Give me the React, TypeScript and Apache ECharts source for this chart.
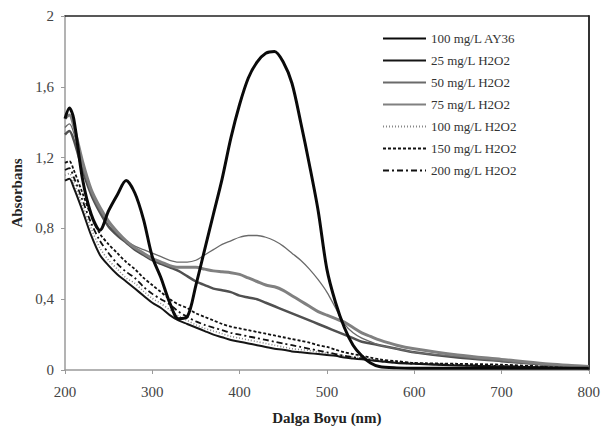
import React, { useEffect, useRef } from "react";
import * as echarts from "echarts";

const wavelengths = [200, 205, 210, 220, 230, 240, 250, 260, 270, 280, 290, 300, 310, 320, 330, 340, 350, 360, 370, 380, 390, 400, 410, 420, 430, 440, 450, 460, 470, 480, 490, 500, 510, 520, 530, 540, 550, 560, 580, 600, 650, 700, 750, 800];

const ay36 = [1.42, 1.48, 1.42, 1.08, 0.88, 0.79, 0.9, 0.99, 1.07, 1.0, 0.85, 0.64, 0.52, 0.38, 0.29, 0.3, 0.48, 0.68, 0.88, 1.08, 1.31, 1.5, 1.65, 1.74, 1.79, 1.8, 1.74, 1.62, 1.4, 1.16, 0.9, 0.57, 0.38, 0.24, 0.14, 0.08, 0.04, 0.02, 0.012, 0.01, 0.01, 0.01, 0.01, 0.01];

const h25 = [1.07, 1.08, 1.03, 0.9, 0.76, 0.65, 0.59, 0.54, 0.5, 0.46, 0.42, 0.38, 0.35, 0.31, 0.28, 0.26, 0.24, 0.22, 0.2, 0.185, 0.17, 0.16, 0.15, 0.14, 0.13, 0.12, 0.115, 0.105, 0.1, 0.095, 0.09, 0.085, 0.08, 0.07, 0.065, 0.06, 0.055, 0.05, 0.04, 0.035, 0.025, 0.02, 0.015, 0.01];

const h50 = [1.37, 1.39, 1.34, 1.15, 1.0, 0.9, 0.83, 0.77, 0.73, 0.7, 0.68, 0.66, 0.64, 0.62, 0.61, 0.61, 0.62, 0.65, 0.68, 0.71, 0.73, 0.75, 0.76, 0.76, 0.75, 0.73, 0.7, 0.66, 0.62, 0.57, 0.51, 0.44, 0.35, 0.26, 0.21, 0.18, 0.16, 0.14, 0.12, 0.1, 0.075, 0.05, 0.03, 0.02];

const h75 = [1.42, 1.44, 1.38, 1.18, 1.02, 0.92, 0.84, 0.78, 0.73, 0.69, 0.66, 0.63, 0.61, 0.59, 0.58, 0.58, 0.58, 0.57, 0.56, 0.555, 0.55, 0.54, 0.52, 0.5, 0.48, 0.47, 0.45, 0.42, 0.39, 0.36, 0.33, 0.31, 0.29, 0.27, 0.24, 0.21, 0.19, 0.17, 0.14, 0.12, 0.085, 0.06, 0.035, 0.02];

const h100 = [1.1, 1.11, 1.06, 0.93, 0.8, 0.69, 0.62, 0.57, 0.52, 0.49, 0.445, 0.405, 0.375, 0.34, 0.305, 0.28, 0.255, 0.235, 0.22, 0.205, 0.19, 0.18, 0.17, 0.16, 0.15, 0.14, 0.13, 0.12, 0.115, 0.11, 0.1, 0.095, 0.09, 0.08, 0.075, 0.07, 0.06, 0.055, 0.045, 0.04, 0.03, 0.02, 0.015, 0.01];

const h150 = [1.17, 1.18, 1.13, 1.0, 0.87, 0.77, 0.71, 0.66, 0.61, 0.57, 0.52, 0.48, 0.44, 0.4, 0.37, 0.35, 0.32, 0.3, 0.28, 0.26, 0.245, 0.235, 0.225, 0.215, 0.205, 0.195, 0.185, 0.175, 0.165, 0.155, 0.14, 0.13, 0.115, 0.1, 0.09, 0.08, 0.07, 0.06, 0.05, 0.04, 0.035, 0.03, 0.02, 0.015];

const h200 = [1.13, 1.14, 1.09, 0.96, 0.83, 0.73, 0.66, 0.6, 0.555, 0.52, 0.47, 0.43, 0.4, 0.37, 0.33, 0.3, 0.275, 0.255, 0.24, 0.225, 0.21, 0.2, 0.19, 0.18, 0.17, 0.16, 0.15, 0.14, 0.13, 0.12, 0.11, 0.1, 0.09, 0.08, 0.072, 0.065, 0.058, 0.05, 0.042, 0.036, 0.028, 0.022, 0.016, 0.012];

const extra = [1.33, 1.35, 1.3, 1.13, 0.99, 0.89, 0.81, 0.76, 0.72, 0.68, 0.65, 0.62, 0.6, 0.58, 0.56, 0.53, 0.5, 0.48, 0.46, 0.45, 0.44, 0.42, 0.41, 0.4, 0.38, 0.36, 0.34, 0.32, 0.3, 0.28, 0.26, 0.24, 0.22, 0.2, 0.18, 0.16, 0.15, 0.14, 0.12, 0.1, 0.07, 0.05, 0.03, 0.02];

const legendNames = ["100 mg/L AY36", "25 mg/L H2O2", "50 mg/L H2O2", "75 mg/L H2O2", "100 mg/L H2O2", "150 mg/L H2O2", "200 mg/L H2O2"];

const xTicks = [200, 300, 400, 500, 600, 700, 800];
const yTicks = [0, 0.4, 0.8, 1.2, 1.6, 2];

const FONT = "Liberation Serif";

export default function App() {
  const ref = useRef<HTMLDivElement>(null);
  useEffect(() => {
    if (!ref.current) return;
    const chart = echarts.init(ref.current, null, { renderer: "svg" });
    const pts = (vals: number[]) => wavelengths.map((w, i) => [w, vals[i]]);
    const mk = (name: string, vals: number[], color: string, width: number, type: any, z = 2) => ({
      name,
      type: "line",
      data: pts(vals),
      showSymbol: false,
      symbol: "none",
      symbolSize: 0,
      smooth: 0.3,
      z,
      lineStyle: { color, width, type },
      itemStyle: { color },
    });
    chart.setOption({
      animation: false,
      backgroundColor: "#ffffff",
      grid: { left: 65, right: 11, top: 16, bottom: 64, containLabel: false },
      legend: {
        data: legendNames,
        orient: "vertical",
        left: 377,
        top: 27,
        itemWidth: 43,
        itemHeight: 14,
        itemGap: 9,
        itemStyle: { opacity: 0, borderWidth: 0 },
        textStyle: { fontFamily: FONT, fontSize: 13, color: "#333" },
      },
      xAxis: [
        {
          type: "value",
          min: xTicks[0],
          max: xTicks[xTicks.length - 1],
          interval: 100,
          name: "Dalga Boyu (nm)",
          nameLocation: "middle",
          nameGap: 40,
          nameTextStyle: { fontFamily: FONT, fontSize: 15, fontWeight: "bold", color: "#222" },
          axisLine: { show: true, lineStyle: { color: "#9a9a9a", width: 1.5 } },
          axisTick: { show: true, length: 4, lineStyle: { color: "#9a9a9a" } },
          axisLabel: { fontFamily: FONT, fontSize: 15, color: "#444", margin: 14 },
          splitLine: { show: false },
        },
        {
          type: "value",
          position: "top",
          min: 200,
          max: 800,
          axisLine: { show: true, onZero: false, lineStyle: { color: "#222", width: 1.5 } },
          axisTick: { show: false },
          axisLabel: { show: false },
          splitLine: { show: false },
        },
      ],
      yAxis: [
        {
          type: "value",
          min: yTicks[0],
          max: yTicks[yTicks.length - 1],
          interval: 0.4,
          name: "Absorbans",
          nameLocation: "middle",
          nameGap: 40,
          nameTextStyle: { fontFamily: FONT, fontSize: 15, fontWeight: "bold", color: "#222" },
          axisLine: { show: true, lineStyle: { color: "#9a9a9a", width: 1.5 } },
          axisTick: { show: true, length: 4, lineStyle: { color: "#9a9a9a" } },
          axisLabel: {
            fontFamily: FONT,
            fontSize: 15,
            color: "#444",
            margin: 11,
            formatter: (v: number) => String(Number(v.toFixed(1))).replace(".", ","),
          },
          splitLine: { show: false },
        },
        {
          type: "value",
          position: "right",
          min: 0,
          max: 2,
          axisLine: { show: true, onZero: false, lineStyle: { color: "#333", width: 2 } },
          axisTick: { show: false },
          axisLabel: { show: false },
          splitLine: { show: false },
        },
      ],
      series: [
        mk("extra", extra, "#505050", 2.5, "solid", 3),
        mk(legendNames[2], h50, "#6a6a6a", 1.3, "solid", 3),
        mk(legendNames[3], h75, "#808080", 3, "solid", 3),
        mk(legendNames[4], h100, "#888888", 1.6, [1, 2], 2),
        mk(legendNames[5], h150, "#111111", 1.8, [3, 2], 2),
        mk(legendNames[6], h200, "#111111", 1.8, [6, 3, 2, 3], 2),
        mk(legendNames[1], h25, "#151515", 2, "solid", 2),
        mk(legendNames[0], ay36, "#0a0a0a", 3, "solid", 5),
      ],
    });
    return () => chart.dispose();
  }, []);
  return <div ref={ref} style={{ position: "fixed", left: 0, top: 0, width: 603, height: 434, background: "#fff" }} />;
}
